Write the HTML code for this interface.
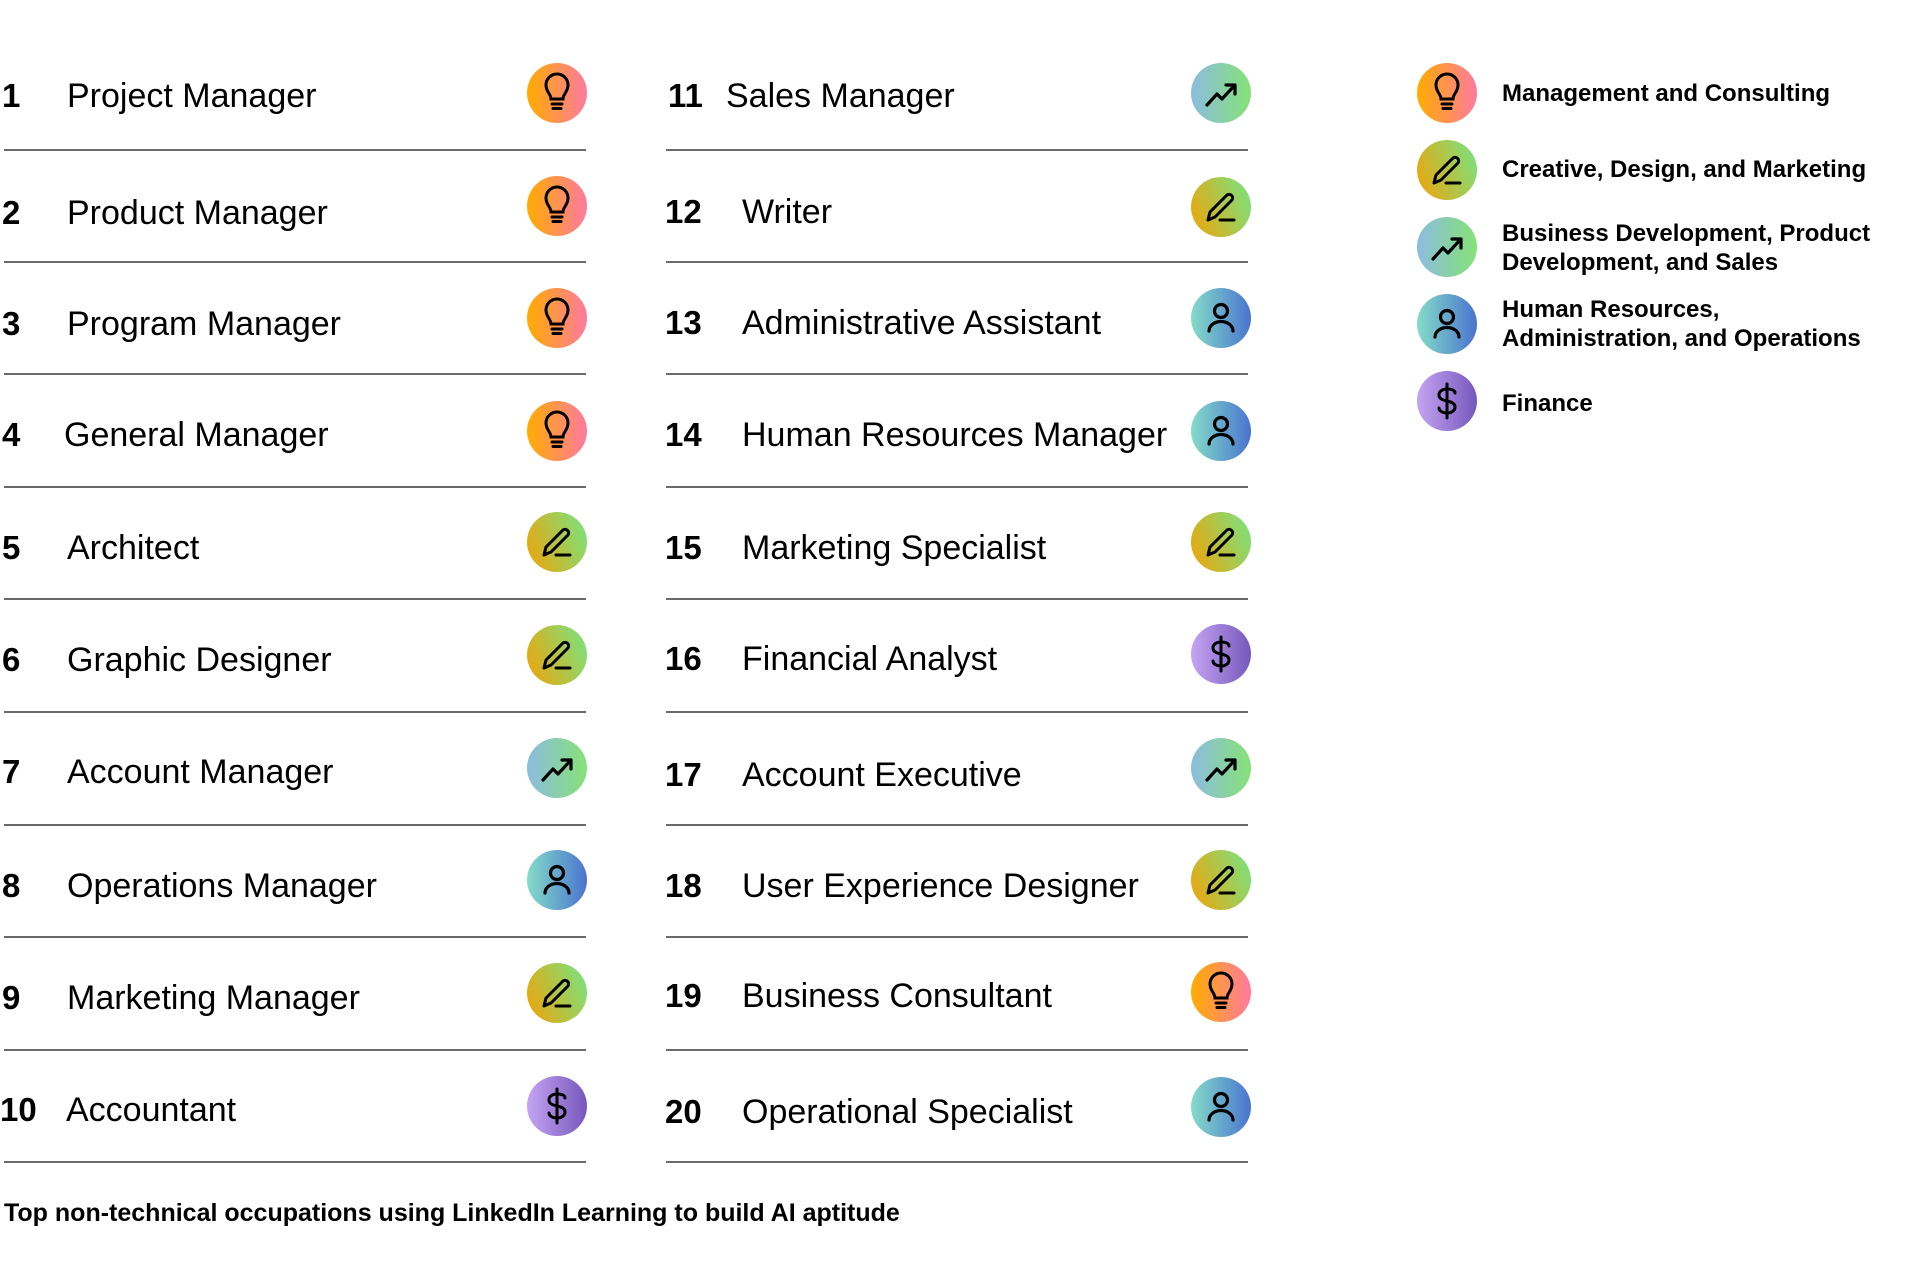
<!DOCTYPE html>
<html><head><meta charset="utf-8"><style>
body{margin:0;width:1920px;height:1280px;background:#fff;position:relative;overflow:hidden;font-family:"Liberation Sans",sans-serif;color:#000}
.t{position:absolute;font-size:34px;line-height:40px;white-space:nowrap;margin-top:2px}
.n{position:absolute;font-size:33px;line-height:40px;font-weight:bold;margin-top:2px}
.ln{position:absolute;height:2px;background:#6a6a6a}
svg.i{position:absolute;width:60px;height:60px}
.lg{position:absolute;font-size:24px;font-weight:bold;line-height:29px;white-space:nowrap}
</style></head><body>
<svg width="0" height="0" style="position:absolute">
<defs>
<linearGradient id="gO" x1="0" y1="0" x2="1" y2="0"><stop offset="0" stop-color="#ffac00"/><stop offset="1" stop-color="#ff7aa0"/></linearGradient>
<linearGradient id="gC" x1="0" y1="0.7" x2="1" y2="0.3"><stop offset="0" stop-color="#e8a810"/><stop offset="1" stop-color="#7ee07a"/></linearGradient>
<linearGradient id="gB" x1="0" y1="0" x2="1" y2="0"><stop offset="0" stop-color="#8cbce0"/><stop offset="1" stop-color="#86e276"/></linearGradient>
<linearGradient id="gH" x1="0" y1="0" x2="1" y2="0"><stop offset="0" stop-color="#84dcc8"/><stop offset="1" stop-color="#4a74d0"/></linearGradient>
<linearGradient id="gF" x1="0" y1="0" x2="1" y2="0"><stop offset="0" stop-color="#c4a4f2"/><stop offset="1" stop-color="#7658bc"/></linearGradient>
<symbol id="bulb" viewBox="0 0 60 60"><circle cx="30" cy="30" r="30" fill="url(#gO)"/><g fill="none" stroke="#000" stroke-width="3" stroke-linecap="round"><path d="M24 36 C24 31 19 29 19 22 A11 11 0 0 1 41 22 C41 29 36 31 36 36 Z"/><path d="M25 41 H35 M26 45.5 H34"/></g></symbol>
<symbol id="pen" viewBox="0 0 60 60"><circle cx="30" cy="30" r="30" fill="url(#gC)"/><g fill="none" stroke="#000" stroke-width="3" stroke-linecap="round" stroke-linejoin="round"><path d="M17 43 L19 35 L36 18 A3.6 3.6 0 0 1 41 23 L24 40 Z"/><path d="M29 43 H43"/></g></symbol>
<symbol id="trend" viewBox="0 0 60 60"><circle cx="30" cy="30" r="30" fill="url(#gB)"/><g fill="none" stroke="#000" stroke-width="3.2" stroke-linecap="round" stroke-linejoin="round"><path d="M16 42 L26 31 L31 36 L43 23"/><path d="M35 22 H44 V31"/></g></symbol>
<symbol id="person" viewBox="0 0 60 60"><circle cx="30" cy="30" r="30" fill="url(#gH)"/><g fill="none" stroke="#000" stroke-width="3.2" stroke-linecap="round"><circle cx="30" cy="23" r="6.5"/><path d="M18 43 A12 9.5 0 0 1 42 43"/></g></symbol>
<symbol id="dollar" viewBox="0 0 60 60"><circle cx="30" cy="30" r="30" fill="url(#gF)"/><g fill="none" stroke="#000" stroke-width="3" stroke-linecap="round"><path d="M30 13 V47"/><path d="M38 22 C38 19 34 18 30 18 C26 18 22 20 22 24 C22 28 26 29 30 30 C34 31 38 32 38 36 C38 40 34 42 30 42 C26 42 22 40 22 37"/></g></symbol>
</defs></svg>

<!-- left column -->
<div class="n" style="left:2px;top:74px">1</div><div class="t" style="left:67px;top:74px">Project Manager</div><svg class="i" style="left:527px;top:63px"><use href="#bulb"/></svg><div class="ln" style="left:4px;width:582px;top:149px"></div>
<div class="n" style="left:2px;top:191px">2</div><div class="t" style="left:67px;top:191px">Product Manager</div><svg class="i" style="left:527px;top:176px"><use href="#bulb"/></svg><div class="ln" style="left:4px;width:582px;top:261px"></div>
<div class="n" style="left:2px;top:302px">3</div><div class="t" style="left:67px;top:302px">Program Manager</div><svg class="i" style="left:527px;top:288px"><use href="#bulb"/></svg><div class="ln" style="left:4px;width:582px;top:373px"></div>
<div class="n" style="left:2px;top:413px">4</div><div class="t" style="left:64px;top:413px">General Manager</div><svg class="i" style="left:527px;top:401px"><use href="#bulb"/></svg><div class="ln" style="left:4px;width:582px;top:486px"></div>
<div class="n" style="left:2px;top:526px">5</div><div class="t" style="left:67px;top:526px">Architect</div><svg class="i" style="left:527px;top:512px"><use href="#pen"/></svg><div class="ln" style="left:4px;width:582px;top:598px"></div>
<div class="n" style="left:2px;top:638px">6</div><div class="t" style="left:67px;top:638px">Graphic Designer</div><svg class="i" style="left:527px;top:625px"><use href="#pen"/></svg><div class="ln" style="left:4px;width:582px;top:711px"></div>
<div class="n" style="left:2px;top:750px">7</div><div class="t" style="left:67px;top:750px">Account Manager</div><svg class="i" style="left:527px;top:738px"><use href="#trend"/></svg><div class="ln" style="left:4px;width:582px;top:824px"></div>
<div class="n" style="left:2px;top:864px">8</div><div class="t" style="left:67px;top:864px">Operations Manager</div><svg class="i" style="left:527px;top:850px"><use href="#person"/></svg><div class="ln" style="left:4px;width:582px;top:936px"></div>
<div class="n" style="left:2px;top:976px">9</div><div class="t" style="left:67px;top:976px">Marketing Manager</div><svg class="i" style="left:527px;top:963px"><use href="#pen"/></svg><div class="ln" style="left:4px;width:582px;top:1049px"></div>
<div class="n" style="left:0px;top:1088px">10</div><div class="t" style="left:66px;top:1088px">Accountant</div><svg class="i" style="left:527px;top:1076px"><use href="#dollar"/></svg><div class="ln" style="left:4px;width:582px;top:1161px"></div>

<!-- right column -->
<div class="n" style="left:668px;top:74px">11</div><div class="t" style="left:726px;top:74px">Sales Manager</div><svg class="i" style="left:1191px;top:63px"><use href="#trend"/></svg><div class="ln" style="left:666px;width:582px;top:149px"></div>
<div class="n" style="left:665px;top:190px">12</div><div class="t" style="left:742px;top:190px">Writer</div><svg class="i" style="left:1191px;top:177px"><use href="#pen"/></svg><div class="ln" style="left:666px;width:582px;top:261px"></div>
<div class="n" style="left:665px;top:301px">13</div><div class="t" style="left:742px;top:301px">Administrative Assistant</div><svg class="i" style="left:1191px;top:288px"><use href="#person"/></svg><div class="ln" style="left:666px;width:582px;top:373px"></div>
<div class="n" style="left:665px;top:413px">14</div><div class="t" style="left:742px;top:413px">Human Resources Manager</div><svg class="i" style="left:1191px;top:401px"><use href="#person"/></svg><div class="ln" style="left:666px;width:582px;top:486px"></div>
<div class="n" style="left:665px;top:526px">15</div><div class="t" style="left:742px;top:526px">Marketing Specialist</div><svg class="i" style="left:1191px;top:512px"><use href="#pen"/></svg><div class="ln" style="left:666px;width:582px;top:598px"></div>
<div class="n" style="left:665px;top:637px">16</div><div class="t" style="left:742px;top:637px">Financial Analyst</div><svg class="i" style="left:1191px;top:624px"><use href="#dollar"/></svg><div class="ln" style="left:666px;width:582px;top:711px"></div>
<div class="n" style="left:665px;top:753px">17</div><div class="t" style="left:742px;top:753px">Account Executive</div><svg class="i" style="left:1191px;top:738px"><use href="#trend"/></svg><div class="ln" style="left:666px;width:582px;top:824px"></div>
<div class="n" style="left:665px;top:864px">18</div><div class="t" style="left:742px;top:864px">User Experience Designer</div><svg class="i" style="left:1191px;top:850px"><use href="#pen"/></svg><div class="ln" style="left:666px;width:582px;top:936px"></div>
<div class="n" style="left:665px;top:974px">19</div><div class="t" style="left:742px;top:974px">Business Consultant</div><svg class="i" style="left:1191px;top:962px"><use href="#bulb"/></svg><div class="ln" style="left:666px;width:582px;top:1049px"></div>
<div class="n" style="left:665px;top:1090px">20</div><div class="t" style="left:742px;top:1090px">Operational Specialist</div><svg class="i" style="left:1191px;top:1077px"><use href="#person"/></svg><div class="ln" style="left:666px;width:582px;top:1161px"></div>

<!-- legend -->
<svg class="i" style="left:1417px;top:63px"><use href="#bulb"/></svg><div class="lg" style="left:1502px;top:79px">Management and Consulting</div>
<svg class="i" style="left:1417px;top:140px"><use href="#pen"/></svg><div class="lg" style="left:1502px;top:155px">Creative, Design, and Marketing</div>
<svg class="i" style="left:1417px;top:217px"><use href="#trend"/></svg><div class="lg" style="left:1502px;top:219px">Business Development, Product<br>Development, and Sales</div>
<svg class="i" style="left:1417px;top:294px"><use href="#person"/></svg><div class="lg" style="left:1502px;top:295px">Human Resources,<br>Administration, and Operations</div>
<svg class="i" style="left:1417px;top:371px"><use href="#dollar"/></svg><div class="lg" style="left:1502px;top:389px">Finance</div>

<div style="position:absolute;left:4px;top:1198px;font-size:25px;font-weight:bold;line-height:30px;white-space:nowrap">Top non-technical occupations using LinkedIn Learning to build AI aptitude</div>
</body></html>
